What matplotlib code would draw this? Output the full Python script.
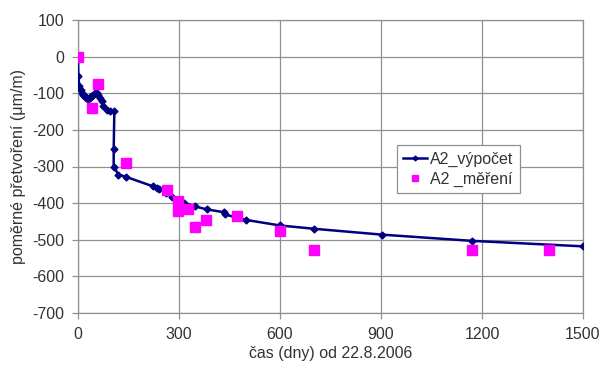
import matplotlib
matplotlib.use("Agg")
import matplotlib.pyplot as plt

plt.rcParams['font.family'] = ['Liberation Sans', 'DejaVu Sans']
plt.rcParams['axes.unicode_minus'] = False

calc_x = [0, 1, 4, 8, 12, 16, 20, 25, 31, 36, 40, 45, 50, 55, 60, 65, 70, 75, 85, 95, 108, 106, 106, 120, 142, 222, 236, 240, 262, 278, 298, 315, 348, 382, 434, 436, 500, 600, 701, 902, 1170, 1500]
calc_y = [0, -54, -81, -90, -98, -104, -108, -112, -117, -114, -108, -104, -99, -100, -104, -112, -122, -136, -145, -149, -149, -252, -300, -322, -328, -354, -358, -362, -372, -384, -392, -399, -409, -417, -425, -431, -446, -461, -470, -486, -503, -518]

meas_x = [0, 41, 60, 142, 263, 298, 298, 328, 348, 381, 471, 600, 701, 1170, 1399]
meas_y = [0, -140, -76, -291, -364, -393, -421, -415, -466, -447, -434, -477, -527, -527, -527]

x_ticks = [0, 300, 600, 900, 1200, 1500]
y_ticks = [100, 0, -100, -200, -300, -400, -500, -600, -700]

fig = plt.figure(figsize=(6.04, 3.65), dpi=100)
ax = fig.add_axes([78/604, 1 - 313/365, 505/604, 293/365])

ax.plot(calc_x, calc_y, color='#000080', lw=1.8, marker='D', ms=3.5,
        label='A2_výpočet', zorder=3)
ax.plot(meas_x, meas_y, ls='none', marker='s', ms=6.5, color='#FF00FF',
        mec='#FF00FF', label='A2 _měření', zorder=4)

ax.set_xlim(0, 1500)
ax.set_ylim(-700, 100)
ax.set_xticks(x_ticks)
ax.set_yticks(y_ticks)
ax.grid(True, color='#909090', lw=0.9)
ax.set_axisbelow(True)
for s in ax.spines.values():
    s.set_color('#909090')
    s.set_linewidth(0.9)
ax.tick_params(colors='#909090', labelcolor='#333333', labelsize=11.5, length=4, width=0.9)
ax.tick_params(axis='x', pad=6)
ax.tick_params(axis='y', pad=6)

ax.set_xlabel('čas (dny) od 22.8.2006', fontsize=11.5, color='#333333', labelpad=3)
ax.set_ylabel('poměrné přetvoření (μm/m)', fontsize=11.5, color='#333333', labelpad=4)

leg = ax.legend(loc='upper left', bbox_to_anchor=(0.615, 0.60), fontsize=11.5,
                frameon=True, fancybox=False, framealpha=1, edgecolor='#909090',
                handlelength=1.5, handletextpad=0.2, borderpad=0.4, labelspacing=0.3,
                markerscale=0.7)
for t in leg.get_texts():
    t.set_color('#333333')
leg.get_frame().set_linewidth(0.9)

fig.savefig('out.png', dpi=100)
